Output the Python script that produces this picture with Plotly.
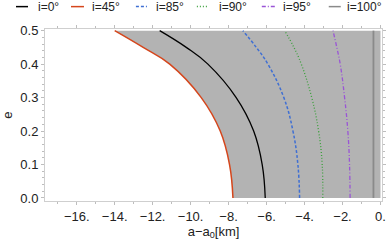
import plotly.graph_objects as go

# ---- data ----
e_vals = [0.0, 0.1, 0.2, 0.3, 0.4, 0.45, 0.5]
a_i0 = [-6.07, -6.23, -6.68, -7.60, -9.09, -10.23, -11.63]
a_i45 = [-7.77, -7.95, -8.44, -9.44, -11.10, -12.50, -14.00]
a_i85 = [-4.26, -4.35, -4.61, -5.09, -5.93, -6.54, -7.25]
a_i90 = [-3.04, -3.07, -3.26, -3.62, -4.17, -4.56, -5.05]
a_i95 = [-1.60, -1.63, -1.72, -1.89, -2.12, -2.30, -2.50]
a_i100 = [-0.37] * len(e_vals)
fill_right = [0.0, 0.0]
fill_e = [0.0, 0.5]

labels = ["i=0°", "i=45°", "i=85°", "i=90°", "i=95°", "i=100°"]
x_tick_vals = [-16, -14, -12, -10, -8, -6, -4, -2, 0]
x_tick_text = ["−16.", "−14.", "−12.", "−10.", "−8.", "−6.", "−4.", "−2.", "0."]
y_tick_vals = [0.0, 0.1, 0.2, 0.3, 0.4, 0.5]
y_tick_text = ["0.0", "0.1", "0.2", "0.3", "0.4", "0.5"]

colors = ["#000000", "#D5461C", "#3F6FD3", "#3BA03B", "#9A55D6", "#8A8A8A"]
dashes = ["solid", "solid", "3px,2px", "1px,2px", "4px,2px,1px,2px", "solid"]
widths = [1.3, 1.5, 1.5, 1.3, 1.3, 1.8]
series = [a_i0, a_i45, a_i85, a_i90, a_i95, a_i100]

fig = go.Figure()

# filled region between i=45 curve and right edge
fig.add_trace(go.Scatter(x=fill_right, y=fill_e, mode="lines",
                         line=dict(width=0, color="rgba(0,0,0,0)"),
                         showlegend=False, hoverinfo="skip"))
fig.add_trace(go.Scatter(x=a_i45, y=e_vals, mode="lines", fill="tonextx",
                         fillcolor="#B3B3B3", line=dict(width=0, shape="spline", smoothing=1.2),
                         showlegend=False, hoverinfo="skip"))

for lab, xs, c, d, w in zip(labels, series, colors, dashes, widths):
    fig.add_trace(go.Scatter(x=xs, y=e_vals, mode="lines", name=lab,
                             line=dict(color=c, dash=d, width=w, shape="spline", smoothing=1.2),
                             showlegend=False, hoverinfo="skip"))

# ---- manual legend (pixel layout -> paper coords) ----
L, R, T, B = 45, 382.3, 29.3, 200.7
def px(x):
    return (x - L) / (R - L)
def py(y):
    return (B - y) / (B - T)

leg_line = [(16, 28), (71, 84), (136, 147), (197, 209), (262, 275), (329, 341)]
leg_text = [35.5, 90.5, 154, 217, 281.5, 345.5]
shapes = []
annotations = []
for (x0, x1), tx, lab, c, d in zip(leg_line, leg_text, labels, colors, dashes):
    shapes.append(dict(type="line", xref="paper", yref="paper",
                       x0=px(x0), x1=px(x1), y0=py(7), y1=py(7),
                       line=dict(color=c, width=1.5, dash=d)))
    annotations.append(dict(text=lab, xref="paper", yref="paper",
                            x=px(tx), y=py(7), xanchor="left", yanchor="middle",
                            showarrow=False, font=dict(size=12, color="#222222")))

axis_common = dict(showline=True, linecolor="#CFCFCF", linewidth=1,
                   mirror="allticks", ticks="outside", ticklen=3,
                   tickcolor="#BDBDBD", tickwidth=1, showgrid=False,
                   zeroline=False, automargin=False,
                   tickfont=dict(size=13, color="#222222"))

fig.update_xaxes(range=[-17.67, 0.08], tickmode="array",
                 tickvals=x_tick_vals, ticktext=x_tick_text,
                 minor=dict(dtick=1, ticklen=2, tickcolor="#BDBDBD", ticks="outside"),
                 title=dict(text="a−a<sub>0</sub>[km]", font=dict(size=13, color="#222222"),
                            standoff=0),
                 **axis_common)
fig.update_yaxes(range=[-0.009, 0.505], tickmode="array",
                 tickvals=y_tick_vals, ticktext=y_tick_text,
                 minor=dict(dtick=0.02, ticklen=2, tickcolor="#BDBDBD", ticks="outside"),
                 title=dict(text="e", font=dict(size=13, color="#222222"), standoff=6),
                 **axis_common)

fig.update_layout(width=389, height=246,
                  margin=dict(l=L, r=389 - R, t=T, b=246 - B),
                  paper_bgcolor="white", plot_bgcolor="white",
                  font=dict(family="Liberation Sans, Arial, sans-serif"),
                  shapes=shapes, annotations=annotations, showlegend=False)

fig.write_html("out.html", config={"displayModeBar": False},
               post_script="document.body.style.margin='0';")
